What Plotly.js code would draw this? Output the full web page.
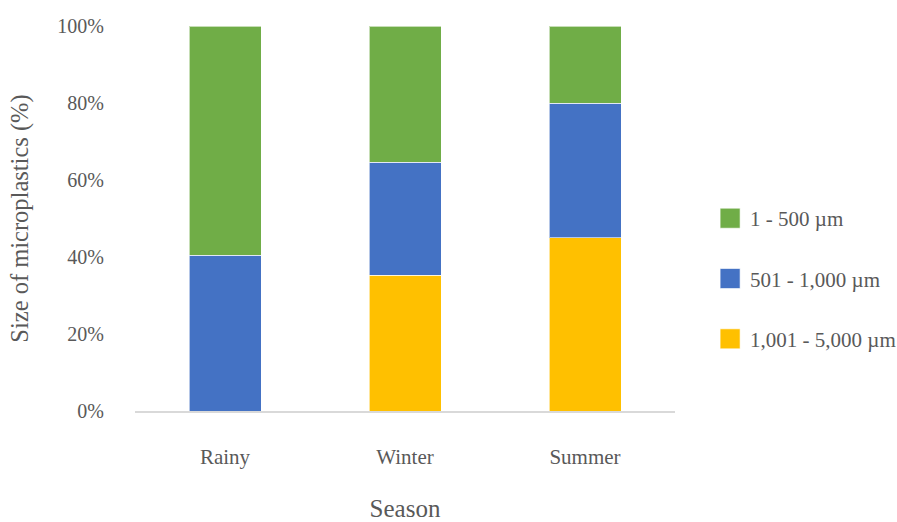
<!DOCTYPE html>
<html>
<head>
<meta charset="utf-8">
<script src="https://cdn.plot.ly/plotly-3.0.1.min.js"></script>
<style>
  html, body { margin: 0; padding: 0; background: #ffffff; }
  #chart { width: 897px; height: 522px; }
</style>
</head>
<body>
<div id="chart"></div>
<script>
// Share of microplastic size classes per season (%)
const seasons = ['Rainy', 'Winter', 'Summer'];
const sizeLarge = [0, 35.2, 45.0];     // 1,001 - 5,000 µm
const sizeMedium = [40.5, 29.4, 35.0]; // 501 - 1,000 µm
const sizeSmall = [59.5, 35.4, 20.0];  // 1 - 500 µm
const seriesNames = ['1,001 - 5,000 µm', '501 - 1,000 µm', '1 - 500 µm'];
const yTicks = [0, 20, 40, 60, 80, 100];

const FONT = 'Liberation Serif, Times New Roman, serif';
const GREY = '#595959';

function barTrace(values, name, color, group, rank) {
  return {
    type: 'bar',
    x: seasons,
    y: values,
    name: name,
    legendgroup: group,
    legendrank: rank,
    marker: { color: color, line: { color: 'rgba(255,255,255,0.6)', width: 1 } },
    hoverinfo: 'x+y+name'
  };
}

// stacked bottom to top; legend lists the top segment first
const data = [
  barTrace(sizeLarge, seriesNames[0], '#FFC000', 'g3', 3),
  barTrace(sizeMedium, seriesNames[1], '#4472C4', 'g2', 2),
  barTrace(sizeSmall, seriesNames[2], '#70AD47', 'g1', 1)
];

const layout = {
  width: 897,
  height: 522,
  margin: { l: 135, r: 222, t: 26, b: 110.5, autoexpand: false },
  paper_bgcolor: '#ffffff',
  plot_bgcolor: '#ffffff',
  barmode: 'stack',
  bargap: 0.6,
  font: { family: FONT, color: GREY, size: 20 },
  showlegend: true,
  legend: {
    x: 1.065,
    xanchor: 'left',
    y: 0.344,
    yanchor: 'middle',
    traceorder: 'grouped',
    tracegroupgap: 30,
    font: { family: FONT, color: GREY, size: 21 },
    bgcolor: 'rgba(0,0,0,0)'
  },
  xaxis: {
    type: 'category',
    showgrid: false,
    zeroline: false,
    showline: true,
    linecolor: '#d9d9d9',
    linewidth: 1.5,
    ticks: '',
    ticklabelstandoff: 26,
    tickfont: { family: FONT, color: GREY, size: 21 },
    title: { text: 'Season', font: { family: FONT, color: GREY, size: 25 }, standoff: 41 }
  },
  yaxis: {
    range: [0, 100],
    tickvals: yTicks,
    ticktext: yTicks.map(v => v + '%'),
    showgrid: false,
    zeroline: false,
    showline: false,
    ticks: '',
    ticklabelstandoff: 30,
    tickfont: { family: FONT, color: GREY, size: 20 },
    title: { text: 'Size of microplastics (%)', font: { family: FONT, color: GREY, size: 24.5 }, standoff: 21 }
  }
};

// enlarge the legend swatches to 20px squares
function enlargeSwatches(gd) {
  gd.querySelectorAll('.legend .legendpoints path').forEach(p => {
    p.setAttribute('d', 'M10,10H-10V-10H10Z');
  });
}

Plotly.newPlot('chart', data, layout, { displayModeBar: false, staticPlot: true })
  .then(gd => {
    enlargeSwatches(gd);
    gd.on('plotly_afterplot', () => enlargeSwatches(gd));
  });
</script>
</body>
</html>
